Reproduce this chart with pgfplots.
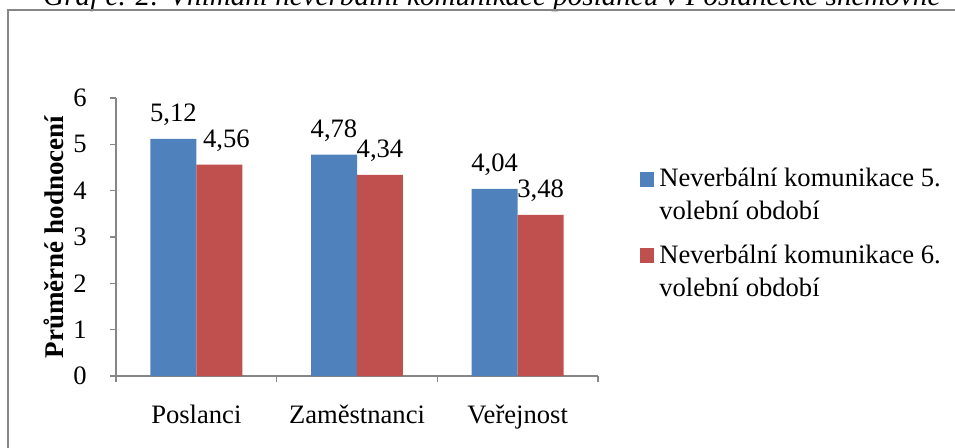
\documentclass[border=0pt]{standalone}
\usepackage{pgfplots}
\pgfplotsset{compat=1.18}
\usepackage{fontspec}
\setmainfont{Liberation Serif}
\definecolor{exblue}{HTML}{4F81BD}
\definecolor{exred}{HTML}{C0504D}
\definecolor{axgray}{HTML}{868686}
\begin{document}
\fontsize{13.3}{16.5}\selectfont
\begin{tikzpicture}
\useasboundingbox (0,0) rectangle (477.5pt,223.5pt);
\clip (0,0) rectangle (477.5pt,223.5pt);
\node[anchor=base west, inner sep=0pt, font=\fontsize{14.55}{17}\selectfont\itshape] at (21.5pt,221pt) {Graf č. 2: Vnímání neverbální komunikace poslanců v Poslanecké sněmovně};
\draw[axgray, line width=1pt] (4pt,-5pt) -- (4pt,218.5pt) -- (485pt,218.5pt);
\begin{axis}[
  at={(58pt,35.5pt)}, anchor=south west,
  scale only axis, width=241pt, height=139pt,
  xmin=-0.5, xmax=2.5, ymin=0, ymax=6,
  axis x line*=bottom, axis y line*=left,
  axis line style={-, axgray, line width=0.75pt},
  xtick={0,1,2}, xticklabels={Poslanci, Zaměstnanci, Veřejnost},
  minor xtick={-0.5,0.5,1.5,2.5},
  major x tick style={draw=none},
  minor x tick style={axgray, line width=0.75pt},
  ytick={0,1,2,3,4,5,6},
  y tick style={axgray, line width=0.75pt},
  tick align=outside, major tick length=3pt, minor tick length=3pt,
  /pgf/number format/assume math mode=true,
  ticklabel style={font=\fontsize{13.3}{16.5}\selectfont},
  xticklabel style={anchor=base, yshift=-20.5pt},
  yticklabel style={anchor=east, inner sep=0pt, xshift=-11.5pt},
  ylabel={\bfseries Průměrné hodnocení},
  every axis y label/.style={at={(axis description cs:-0.1286,0.5)}, rotate=90, anchor=center, font=\fontsize{13.5}{16.5}\selectfont},
  legend style={at={(axis description cs:1.087,0.749)}, anchor=north west, draw=none, fill=none, inner sep=0pt,
    nodes={inner sep=0pt}, column sep=2.5pt, row sep=10.5pt,
    cells={anchor=west, align=left}, font=\fontsize{13.3}{16.5}\selectfont},
  legend image code/.code={\fill[#1] (0pt,4.5pt) rectangle (7pt,12pt);},
  every node near coord/.append style={anchor=base, yshift=8.5pt, font=\fontsize{13.3}{16.5}\selectfont, text=black},
]
\addplot[ybar, bar width=0.2863, bar shift=-0.1431, fill=exblue, draw=none,
  nodes near coords={\pgfmathprintnumber[fixed,fixed zerofill,precision=2,use comma]{\pgfplotspointmeta}},
  every node near coord/.append style={xshift=-11.5pt}] coordinates {(0,5.12) (1,4.78) (2,4.04)};
\addlegendentry{Neverbální komunikace 5.\\volební období}
\addplot[ybar, bar width=0.2863, bar shift=0.1431, fill=exred, draw=none,
  nodes near coords={\ifnum\coordindex=0 \hspace*{7pt}\fi\pgfmathprintnumber[fixed,fixed zerofill,precision=2,use comma]{\pgfplotspointmeta}},
  every node near coord/.append style={xshift=11.5pt}] coordinates {(0,4.56) (1,4.34) (2,3.48)};
\addlegendentry{Neverbální komunikace 6.\\volební období}
\end{axis}
\end{tikzpicture}
\end{document}
